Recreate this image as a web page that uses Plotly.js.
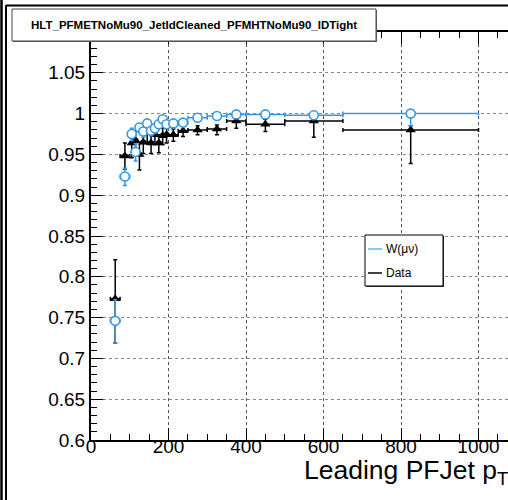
<!DOCTYPE html>
<html>
<head>
<meta charset="utf-8">
<script src="https://cdn.plot.ly/plotly-3.0.1.min.js"></script>
<style>
html,body{margin:0;padding:0;overflow:hidden;background:#fff;}
#plot{width:600px;height:500px;}
</style>
</head>
<body>
<div id="plot"></div>
<script>
// Bin centres and half widths (Leading PFJet pT, GeV)
const binCenters    = [62.5, 87.5, 105, 115, 125, 135, 145, 155, 165, 175, 185, 195, 212.5, 237.5, 275, 325, 375, 450, 575, 825];
const binHalfWidths = [12.5, 12.5, 5, 5, 5, 5, 5, 5, 5, 5, 5, 5, 12.5, 12.5, 25, 25, 25, 50, 75, 175];

// W(mu nu) simulation efficiency
const wmunuEff   = [0.746, 0.923, 0.975, 0.953, 0.983, 0.978, 0.988, 0.979, 0.982, 0.987, 0.993, 0.987, 0.988, 0.989, 0.995, 0.997, 0.999, 0.999, 0.998, 1.000];
const wmunuErrLo = [0.027, 0.011, 0.008, 0.011, 0.006, 0.007, 0.005, 0.006, 0.006, 0.005, 0.004, 0.005, 0.004, 0.004, 0.003, 0.002, 0.002, 0.002, 0.003, 0.015];
const wmunuErrHi = [0.026, 0.010, 0.007, 0.010, 0.005, 0.006, 0.004, 0.005, 0.005, 0.004, 0.003, 0.004, 0.003, 0.003, 0.002, 0.002, 0.001, 0.001, 0.002, 0.000];

// Data efficiency
const dataEff   = [0.773, 0.948, 0.964, 0.967, 0.950, 0.965, 0.977, 0.964, 0.974, 0.964, 0.973, 0.974, 0.974, 0.979, 0.980, 0.981, 0.991, 0.987, 0.991, 0.980];
const dataErrLo = [0.054, 0.016, 0.018, 0.014, 0.019, 0.014, 0.012, 0.013, 0.012, 0.012, 0.011, 0.010, 0.008, 0.007, 0.006, 0.007, 0.009, 0.009, 0.020, 0.041];
const dataErrHi = [0.048, 0.016, 0.012, 0.012, 0.015, 0.012, 0.010, 0.011, 0.010, 0.010, 0.009, 0.008, 0.007, 0.006, 0.005, 0.005, 0.005, 0.006, 0.006, 0.005];

const xTickVals = [0, 200, 400, 600, 800, 1000];
const yTickVals = [0.6, 0.65, 0.7, 0.75, 0.8, 0.85, 0.9, 0.95, 1, 1.05];

const titleText = "HLT_PFMETNoMu90_JetIdCleaned_PFMHTNoMu90_IDTight";
const legendNames = ["W(μν)", "Data"];
const xTitle = "Leading PFJet p<sub>T</sub> [GeV]";

const BLUE = "#3399e6";
const W = 600, H = 500, ML = 91, MR = 44, MT = 32, MB = 60;
const PW = W - ML - MR, PH = H - MT - MB;
const px = v => (v - ML) / PW;
const py = v => (H - MB - v) / PH;

const dataTrace = {
  x: binCenters, y: dataEff, type: "scatter", mode: "markers", name: legendNames[1],
  marker: {symbol: "triangle-up", size: 9, color: "#000"},
  error_y: {type: "data", symmetric: false, array: dataErrHi, arrayminus: dataErrLo, color: "#000", thickness: 1.5, width: 2},
  error_x: {type: "data", array: binHalfWidths, color: "#000", thickness: 1.5, width: 2},
  showlegend: false, hoverinfo: "skip"
};
const wTrace = {
  x: binCenters, y: wmunuEff, type: "scatter", mode: "markers", name: legendNames[0],
  marker: {symbol: "circle", size: 9, color: "#fff", line: {width: 1.6, color: BLUE}},
  error_y: {type: "data", symmetric: false, array: wmunuErrHi, arrayminus: wmunuErrLo, color: BLUE, thickness: 1.5, width: 2},
  error_x: {type: "data", array: binHalfWidths, color: BLUE, thickness: 1.5, width: 2},
  showlegend: false, hoverinfo: "skip"
};

const axisCommon = {
  showline: true, linewidth: 2, linecolor: "#000", mirror: "ticks",
  ticks: "inside", ticklen: 12, tickwidth: 1, tickcolor: "#000",
  showgrid: true, gridcolor: "#555", griddash: "dot", gridwidth: 1,
  zeroline: false,
  tickfont: {family: "Liberation Sans, Arial, sans-serif", size: 19, color: "#000"}
};

const layout = {
  width: W, height: H,
  margin: {l: ML, r: MR, t: MT, b: MB, pad: 0},
  paper_bgcolor: "#fff", plot_bgcolor: "#fff",
  showlegend: false,
  xaxis: Object.assign({}, axisCommon, {
    range: [0, 1200], tickvals: xTickVals, ticktext: xTickVals.map(String),
    ticklabelstandoff: -12,
    minor: {dtick: 50, tick0: 0, ticks: "inside", ticklen: 6, tickcolor: "#000", showgrid: false}
  }),
  yaxis: Object.assign({}, axisCommon, {
    range: [0.6, 1.1], tickvals: yTickVals, ticktext: yTickVals.map(String),
    gridcolor: "#888",
    minor: {dtick: 0.01, tick0: 0.6, ticks: "inside", ticklen: 6, tickcolor: "#000", showgrid: false}
  }),
  shapes: [
    // canvas frame
    {type: "line", xref: "paper", yref: "paper", x0: px(1.5), x1: px(1.5), y0: py(0), y1: py(500), line: {color: "#000", width: 2.5}, layer: "above"},
    {type: "line", xref: "paper", yref: "paper", x0: px(6), x1: px(6), y0: py(5), y1: py(500), line: {color: "#000", width: 2}, layer: "above"},
    {type: "line", xref: "paper", yref: "paper", x0: px(6), x1: px(600), y0: py(5.5), y1: py(5.5), line: {color: "#000", width: 2}, layer: "above"},
    // title box
    {type: "rect", xref: "paper", yref: "paper", x0: px(13), x1: px(377), y0: py(42), y1: py(10), fillcolor: "#666", line: {width: 0}, layer: "above"},
    {type: "rect", xref: "paper", yref: "paper", x0: px(12), x1: px(376), y0: py(41), y1: py(9), fillcolor: "#fff", line: {color: "#444", width: 1}, layer: "above"},
    // legend box
    {type: "rect", xref: "paper", yref: "paper", x0: px(366), x1: px(444), y0: py(287), y1: py(236), fillcolor: "#333", line: {width: 0}, layer: "above"},
    {type: "rect", xref: "paper", yref: "paper", x0: px(365), x1: px(443), y0: py(286), y1: py(235), fillcolor: "#fff", line: {color: "#000", width: 1}, layer: "above"},
    {type: "line", xref: "paper", yref: "paper", x0: px(368), x1: px(382), y0: py(249), y1: py(249), line: {color: "#5fb8f0", width: 1.5}, layer: "above"},
    {type: "line", xref: "paper", yref: "paper", x0: px(368), x1: px(382), y0: py(273), y1: py(273), line: {color: "#000", width: 1.5}, layer: "above"}
  ],
  annotations: [
    {xref: "paper", yref: "paper", x: px(194), y: py(25), text: "<b>" + titleText + "</b>", showarrow: false,
     xanchor: "center", yanchor: "middle", font: {family: "Liberation Sans, Arial, sans-serif", size: 11.5, color: "#000"}},
    {xref: "paper", yref: "paper", x: px(384), y: py(249), text: legendNames[0], showarrow: false,
     xanchor: "left", yanchor: "middle", font: {family: "Liberation Sans, Arial, sans-serif", size: 12, color: "#000"}},
    {xref: "paper", yref: "paper", x: px(384), y: py(273), text: legendNames[1], showarrow: false,
     xanchor: "left", yanchor: "middle", font: {family: "Liberation Sans, Arial, sans-serif", size: 12, color: "#000"}},
    {xref: "paper", yref: "paper", x: px(302), y: py(472), text: xTitle, showarrow: false,
     xanchor: "left", yanchor: "middle", font: {family: "Liberation Sans, Arial, sans-serif", size: 26.5, color: "#000"}}
  ]
};

Plotly.newPlot("plot", [dataTrace, wTrace], layout, {staticPlot: true, displayModeBar: false});
</script>
</body>
</html>
